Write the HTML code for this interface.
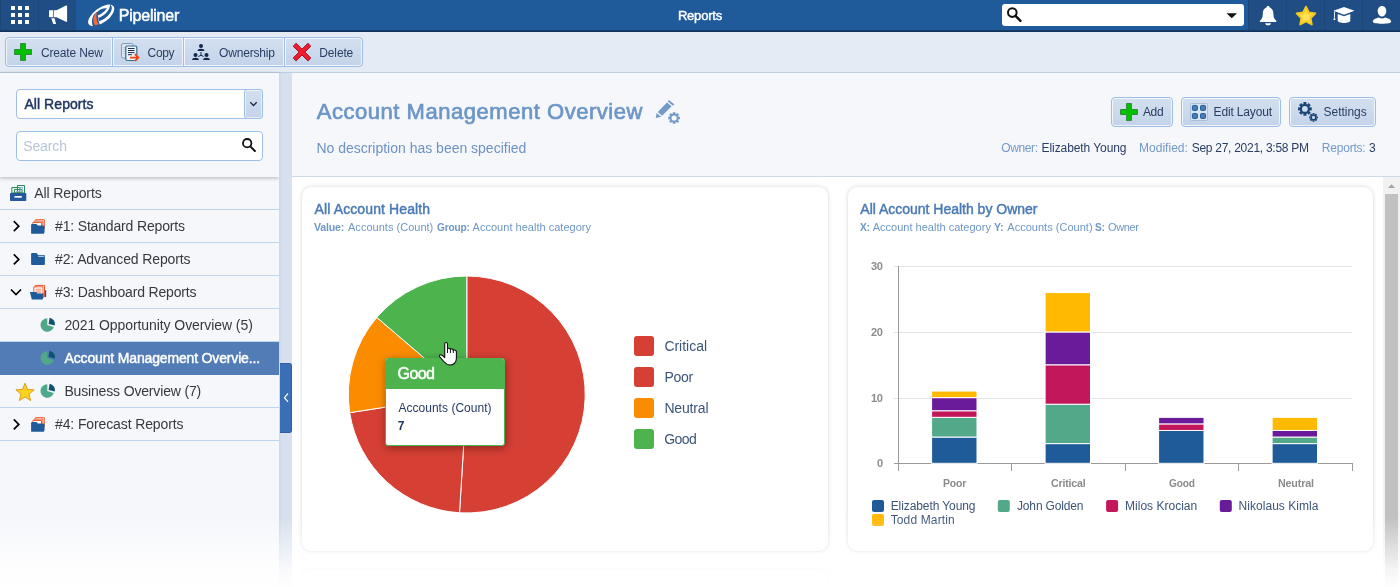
<!DOCTYPE html>
<html lang="en">
<head>
<meta charset="utf-8">
<title>Reports</title>
<style>
*{box-sizing:border-box;margin:0;padding:0}
html,body{width:1400px;height:587px;overflow:hidden;background:#fff}
body{font-family:"Liberation Sans",sans-serif;color:#2a3d62;position:relative;font-size:14px}
.a{position:absolute}
.t{position:absolute;white-space:nowrap;line-height:1}
svg{position:absolute;overflow:visible}
#top{position:absolute;left:0;top:0;width:1400px;height:30px;background:#1f5a9b}
#topsh{position:absolute;left:0;top:30px;width:1400px;height:2px;background:linear-gradient(#17406f,#0f2d52)}
.cell{position:absolute;top:0;height:30px;background:#204d84}
#tb{position:absolute;left:0;top:32px;width:1400px;height:41px;background:#e4ebf5;border-bottom:1px solid #c0cddf}
.btn{position:absolute;height:30px;background:linear-gradient(#d4e0f0,#c3d3e9);border:1px solid #9dbde2;box-shadow:inset 0 0 0 1px rgba(255,255,255,.75)}
#side{position:absolute;left:0;top:73px;width:279px;height:514px;background:#f6f7fb}
#filt{position:absolute;left:0;top:73px;width:279px;height:104px;background:#f6f7fb;box-shadow:0 1px 4px rgba(0,0,0,.28)}
.inp{position:absolute;left:16px;width:247px;height:30px;background:#fff;border:1px solid #9fc0e6;border-radius:4px}
.rb{position:absolute;left:0;width:279px;height:1px;background:#bcd4ec}
#split{position:absolute;left:279px;top:73px;width:13px;height:514px;background:linear-gradient(to right,#cdd7e6,#d7e0ee 25%)}
#hdr{position:absolute;left:292px;top:73px;width:1108px;height:104px;background:#f6f7fb;border-bottom:1px solid #ccdaea}
.card{position:absolute;top:187px;height:364px;background:#fff;border-radius:9px;box-shadow:0 0 4px rgba(0,0,0,.16),0 1px 2px rgba(0,0,0,.06)}
#fade{position:absolute;left:0;top:517px;width:1400px;height:70px;background:linear-gradient(rgba(255,255,255,0),rgba(255,255,255,.84) 75%,rgba(255,255,255,.98))}
</style>
</head>
<body>
<div id="top"></div><div id="topsh"></div>
<div class="cell" style="left:0;width:76px"></div><div class="cell" style="left:38px;width:1px;background:#1c4678"></div><div class="cell" style="left:0;width:1px;background:#1c4678"></div>
<div class="cell" style="left:1248px;width:152px"></div><div class="cell" style="left:1248px;width:1px;background:#1c4678"></div><div class="cell" style="left:1286px;width:1px;background:#1c4678"></div><div class="cell" style="left:1324px;width:1px;background:#1c4678"></div><div class="cell" style="left:1362px;width:1px;background:#1c4678"></div>
<svg style="left:0;top:0" width="40" height="30" fill="#fff"><rect x="11" y="6" width="4" height="4"/><rect x="11" y="13" width="4" height="4"/><rect x="11" y="20" width="4" height="4"/><rect x="18" y="6" width="4" height="4"/><rect x="18" y="13" width="4" height="4"/><rect x="18" y="20" width="4" height="4"/><rect x="25" y="6" width="4" height="4"/><rect x="25" y="13" width="4" height="4"/><rect x="25" y="20" width="4" height="4"/></svg>
<svg style="left:0;top:0" width="80" height="30"><path d="M49 11.2c0-.6.4-1 1-1h3.3v7H50c-.6 0-1-.4-1-1z M54 10.2h2.5L66 5.6c.6-.3 1.1 0 1.1.6v15c0 .6-.5.9-1.1.6l-9.500-4.600H54z M51.300 18.300h3.200l1.600 5.700h-2.900z" fill="#fff"/></svg>
<svg style="left:0;top:0" width="120" height="30">
<g transform="translate(101.200 15.400) rotate(-36.500)"><ellipse cx="0" cy="0" rx="15.300" ry="7.400" fill="#fff"/></g>
<path d="M110.200 4.600C115 9 108.300 18.200 99.300 21.300L98.500 18C104.200 15.700 109.400 10.600 109.700 6.800z" fill="#1f5a9b"/>
<path d="M96.500 12.700C99 9.200 103 8 106.900 8.200 105.500 10.900 101.500 13.900 97.300 15.700z" fill="#1f5a9b"/>
<path d="M93.600 15C91.400 19 91.600 23 93 27L100.300 25.500C99 23 98.300 20.300 98.400 17.500L96.800 12z" fill="#1f5a9b"/>
<path d="M96.500 12.300c-3.400 3.800-4.300 8.300-1.700 13l3.900-.8c-2-3.500-2.800-7.400-2-12.100z" fill="#f26a3d"/>
</svg>
<span class="t" style="left:118.76px;top:7.56px;font-size:16px;color:#fff;letter-spacing:-0.220px;-webkit-text-stroke:0.51px #fff;">Pipeliner</span>
<span class="t" style="left:677.91px;top:8.90px;font-size:13px;color:#fff;letter-spacing:-0.203px;-webkit-text-stroke:0.42px #fff;">Reports</span>
<div class="a" style="left:1002px;top:4px;width:242px;height:21.500px;background:#fff;border-radius:3px"></div>
<svg style="left:1000px;top:0" width="250" height="30"><circle cx="12.300" cy="12.600" r="4.300" fill="none" stroke="#111" stroke-width="2"/><path d="M15.500 15.800l5 5" stroke="#111" stroke-width="2.400" stroke-linecap="round"/><path d="M226.500 13.300h10.500l-5.250 5z" fill="#111"/></svg>
<svg style="left:0;top:0" width="1400" height="32"><path d="M1268.100 6c1 0 1.600.7 1.600 1.600 2.600.8 3.700 3.200 3.700 6.200 0 3.600 1 5.400 2.900 7v1.200h-16.400v-1.200c1.900-1.600 2.900-3.400 2.900-7 0-3 1.100-5.400 3.700-6.200 0-.9.600-1.600 1.600-1.600z M1265.300 23.200h5.600c0 1.300-1.200 2.100-2.800 2.100s-2.800-.8-2.800-2.100z" fill="#fff"/><polygon points="1306.00,6.60 1308.91,12.50 1315.42,13.44 1310.71,18.03 1311.82,24.51 1306.00,21.45 1300.18,24.51 1301.29,18.03 1296.58,13.44 1303.09,12.50" fill="#fdd835" stroke="#f5c91f" stroke-width="1.8" stroke-linejoin="round"/><circle cx="1306" cy="17" r="3.500" fill="#fde25a"/><path d="M1344 7l10.500 3.800-10.500 4-10.500-4z M1337.700 13.900l6.300 2.400 6.300-2.400v6.600c0 1.400-2.800 2.500-6.300 2.500s-6.300-1.100-6.300-2.500z M1334 11.500h.9v6.200h-.9z M1333.600 18.200h1.700v1.700h-1.700z" fill="#fff"/><path d="M1382 6c2.500 0 4.300 2.200 4.300 5s-1.800 5.600-4.300 5.600-4.300-2.800-4.300-5.600 1.800-5 4.300-5z M1372.800 21.800c0-2.600 3.200-3.600 6.200-4.400 1.800 1.300 4.200 1.300 6 0 3 .8 6.200 1.800 6.200 4.400 0 1.200-4 2-9.200 2s-9.200-.8-9.200-2z" fill="#fff"/></svg>
<div id="tb"></div>
<div class="btn" style="left:5px;top:37px;width:108px;border-radius:4px 0 0 4px"></div>
<div class="btn" style="left:112px;top:37px;width:72px"></div>
<div class="btn" style="left:183px;top:37px;width:102px"></div>
<div class="btn" style="left:284px;top:37px;width:79px;border-radius:0 4px 4px 0"></div>
<svg style="left:14px;top:43px" width="18" height="18" viewBox="0 0 18 18"><path d="M6.5 .5h5v6h6v5h-6v6h-5v-6h-6v-5h6z" fill="#00c000" stroke="#2f8f3f" stroke-width="1"/></svg>
<span class="t" style="left:40.90px;top:46.84px;font-size:12px;color:#2a3d62;letter-spacing:-0.138px;">Create New</span>
<span class="t" style="left:147.60px;top:46.84px;font-size:12px;color:#2a3d62;letter-spacing:-0.333px;">Copy</span>
<span class="t" style="left:219.00px;top:46.84px;font-size:12px;color:#2a3d62;letter-spacing:-0.172px;">Ownership</span>
<span class="t" style="left:319.30px;top:46.84px;font-size:12px;color:#2a3d62;letter-spacing:-0.138px;">Delete</span>
<svg style="left:0;top:0" width="150" height="70">
<rect x="121.500" y="43.500" width="11.500" height="14.500" rx="1.500" fill="#dbe5f1" stroke="#7f9fbd"/><path d="M123.500 47.500h2M123.500 49.500h2M123.500 51.500h2M123.500 53.500h2" stroke="#a9bdd3" stroke-width=".8"/>
<rect x="125.800" y="46" width="11" height="14.500" rx="1.500" fill="#eef3f9" stroke="#356f8e" stroke-width="1.200"/>
<path d="M128 48.500h6.500M128 50.500h6.500M128 52.600h6.500M128 54.700h4" stroke="#1d2f55" stroke-width="1"/>
<path d="M130 57.600h7.400M134.800 54.200l3.600 3.400-3.600 3.400" fill="none" stroke="#f4400f" stroke-width="1.700"/>
</svg>
<svg style="left:0;top:0" width="220" height="70" fill="#12284c"><circle cx="201" cy="45.9" r="2"/><path d="M197.6 51.0c0-1.600 1.300-2.300 3.400-2.300s3.400.7 3.400 2.300z"/><circle cx="195.5" cy="54.9" r="2"/><path d="M192.1 60.0c0-1.600 1.300-2.300 3.400-2.300s3.400.7 3.400 2.300z"/><circle cx="206.5" cy="54.9" r="2"/><path d="M203.1 60.0c0-1.600 1.300-2.300 3.400-2.300s3.400.7 3.400 2.300z"/><path d="M201 52v3.200l-2.600 1.300M201 55.200l2.600 1.300" stroke="#12284c" stroke-width="1" fill="none"/></svg>
<svg style="left:0;top:0" width="320" height="70"><path d="M296.100 43.300l5.900 5.900 5.900-5.900 2.900 2.900-5.900 5.900 5.900 5.900-2.900 2.900-5.900-5.900-5.900 5.900-2.900-2.900 5.900-5.900-5.900-5.900z" fill="#ee1c2e" stroke="#a31221" stroke-width="1"/></svg>
<div id="side"></div>
<div class="rb" style="top:209px"></div>
<div class="rb" style="top:242px"></div>
<div class="rb" style="top:275px"></div>
<div class="rb" style="top:308px"></div>
<div class="rb" style="top:341px"></div>
<div class="rb" style="top:374px"></div>
<div class="rb" style="top:407px"></div>
<div class="rb" style="top:440px"></div>
<div class="a" style="left:0;top:342px;width:279px;height:32.500px;background:#527cb6"></div>
<span class="t" style="left:34.30px;top:186.25px;font-size:14px;color:#38393d;letter-spacing:-0.110px;">All Reports</span>
<span class="t" style="left:55.00px;top:219.25px;font-size:14px;color:#38393d;letter-spacing:-0.161px;">#1: Standard Reports</span>
<span class="t" style="left:55.00px;top:252.25px;font-size:14px;color:#38393d;letter-spacing:-0.113px;">#2: Advanced Reports</span>
<span class="t" style="left:55.00px;top:285.25px;font-size:14px;color:#38393d;letter-spacing:-0.158px;">#3: Dashboard Reports</span>
<span class="t" style="left:64.40px;top:318.25px;font-size:14px;color:#38393d;letter-spacing:-0.079px;">2021 Opportunity Overview (5)</span>
<span class="t" style="left:64.62px;top:351.25px;font-size:14px;color:#fff;letter-spacing:-0.162px;-webkit-text-stroke:0.45px #fff;">Account Management Overvie...</span>
<span class="t" style="left:64.40px;top:384.25px;font-size:14px;color:#38393d;letter-spacing:-0.158px;">Business Overview (7)</span>
<span class="t" style="left:55.00px;top:417.25px;font-size:14px;color:#38393d;letter-spacing:-0.118px;">#4: Forecast Reports</span>
<svg style="left:0;top:0" width="279" height="587"><path d="M17.500 185.500h7v7.500h-7z M11.800 187.500h8v5.500h-8z M14.500 189.500h7.500v3.500h-7.500z" fill="#e9f3ee" stroke="#2e8b57" stroke-width="1"/><path d="M19 187.500h4M19 189h4M16 191.500h4.500" stroke="#7fa6d6" stroke-width=".8"/><rect x="10" y="193" width="16.300" height="8" rx=".8" fill="#24589a"/><rect x="14.500" y="196" width="7.300" height="1.700" fill="#fff"/><path d="M13.800 221.2l5 5-5 5" fill="none" stroke="#000" stroke-width="1.700"/><path d="M35.700 219.7h8.600v9h-8.600z" fill="#fff" stroke="#ee5a30" stroke-width="1"/><path d="M34.300 221.1h8.600v9h-8.600z" fill="#fff" stroke="#ee5a30" stroke-width="1"/><path d="M32.900 222.5h8.600v9h-8.600z" fill="#fff" stroke="#ee5a30" stroke-width="1"/><path d="M31.100 224.89999999999998c0-.5.400-.900.900-.900h4.500l1.400 1.600h5.300c.5 0 .9.400.9.900v6.400c0 .5-.4.900-.9.900h-11.200c-.5 0-.9-.4-.9-.9z" fill="#1f5a9b"/><path d="M44.400 225.79999999999998h.5v6.800h-.5z" fill="#1f5a9b"/><path d="M13.800 254.39999999999998l5 5-5 5" fill="none" stroke="#000" stroke-width="1.700"/><path d="M31.100 254c0-.5.400-.900.900-.900h4.600l1.500 1.800h5.900c.5 0 .9.400.9.900v8.200c0 .5-.4.900-.9.900h-12c-.5 0-.9-.4-.9-.9z" fill="#1f5a9b"/><path d="M38.300 256.3h5.800" stroke="#fff" stroke-width=".8"/><path d="M11 289.5l5 5 5-5" fill="none" stroke="#000" stroke-width="1.700"/><path d="M35.300 285.4h9.200v11.500h-9.200z" fill="#fff" stroke="#ee5a30" stroke-width="1"/><path d="M33.800 286.79999999999995h9.200v11h-9.200z" fill="#fff" stroke="#ee5a30" stroke-width="1"/><path d="M35.600 289.2h5.600M35.600 291.0h5.600M35.600 292.79999999999995h5.600" stroke="#f0623a" stroke-width=".8"/><path d="M44.900 290.2h1.300v6.800h-1.300z" fill="#1f5a9b"/><path d="M29.900 292.09999999999997h6.300l1.200 1.500h6.400l-1.100 6h-10.900z" fill="#1f5a9b"/><path d="M47.3 325L47.3 318.2A6.800 6.800 0 1 0 53.8 326.9z" fill="#4fa88a"/><path d="M48.599999999999994 324L49.599999999999994 317.7A6.600 6.600 0 0 1 54.8 325.6z" fill="#0f5270"/><path d="M47.3 358L47.3 351.2A6.800 6.800 0 1 0 53.8 359.9z" fill="#4fa88a"/><path d="M48.599999999999994 357L49.599999999999994 350.7A6.600 6.600 0 0 1 54.8 358.6z" fill="#0f5270"/><path d="M47.3 391L47.3 384.2A6.800 6.800 0 1 0 53.8 392.9z" fill="#4fa88a"/><path d="M48.599999999999994 390L49.599999999999994 383.7A6.600 6.600 0 0 1 54.8 391.6z" fill="#0f5270"/><polygon points="25.00,383.20 27.48,389.38 34.13,389.83 29.02,394.11 30.64,400.57 25.00,397.02 19.36,400.57 20.98,394.11 15.87,389.83 22.52,389.38" fill="#fcd21c" stroke="#d9a01e" stroke-width="1" stroke-linejoin="round"/><path d="M13.800 419.4l5 5-5 5" fill="none" stroke="#000" stroke-width="1.700"/><path d="M35.700 417.7h8.600v9h-8.600z" fill="#fff" stroke="#ee5a30" stroke-width="1"/><path d="M34.300 419.09999999999997h8.600v9h-8.600z" fill="#fff" stroke="#ee5a30" stroke-width="1"/><path d="M32.900 420.5h8.600v9h-8.600z" fill="#fff" stroke="#ee5a30" stroke-width="1"/><path d="M31.100 422.9c0-.5.400-.900.900-.900h4.500l1.400 1.600h5.300c.5 0 .9.400.9.900v6.400c0 .5-.4.900-.9.900h-11.200c-.5 0-.9-.4-.9-.9z" fill="#1f5a9b"/><path d="M44.400 423.8h.5v6.800h-.5z" fill="#1f5a9b"/></svg>
<div id="filt"></div>
<div class="inp" style="top:89px"></div>
<div class="a" style="left:244px;top:89px;width:19px;height:30px;background:linear-gradient(#d4e0f0,#c3d3e9);border:1px solid #9fc0e6;border-radius:3px;box-shadow:inset 0 0 0 1px rgba(255,255,255,.6)"></div>
<svg style="left:0;top:0" width="279" height="180"><path d="M250.300 102.300l3.200 3.200 3.200-3.200" fill="none" stroke="#12284c" stroke-width="1.250"/></svg>
<span class="t" style="left:24.42px;top:97.05px;font-size:14px;color:#1f3660;letter-spacing:0.065px;-webkit-text-stroke:0.45px #1f3660;">All Reports</span>
<div class="inp" style="top:131px"></div>
<span class="t" style="left:23.20px;top:138.75px;font-size:14px;color:#b8c6d8;letter-spacing:-0.115px;">Search</span>
<svg style="left:0;top:0" width="279" height="180"><circle cx="247.200" cy="143.200" r="4.200" fill="none" stroke="#111" stroke-width="1.800"/><path d="M250.300 146.400l4.600 4.600" stroke="#111" stroke-width="2" stroke-linecap="round"/></svg>
<div id="split"></div>
<div class="a" style="left:280px;top:363px;width:12px;height:70px;background:#3a6fb5;border-radius:0 3px 3px 0;border:1px solid #2d5fa3;border-left:0"></div>
<svg style="left:0;top:0" width="300" height="587"><path d="M288 393.500l-3.500 4.200 3.500 4.200" fill="none" stroke="#fff" stroke-width="1.200"/></svg>
<div id="hdr"></div>
<span class="t" style="left:316.75px;top:100.88px;font-size:22px;color:#6c96c8;letter-spacing:0.533px;-webkit-text-stroke:0.70px #6c96c8;">Account Management Overview</span>
<span class="t" style="left:316.40px;top:140.75px;font-size:14px;color:#6c93c3;letter-spacing:-0.007px;">No description has been specified</span>
<svg style="left:0;top:0" width="700" height="140">
<path d="M657.800 112.100L667 102.600 671.600 106.300 662.100 115.800z" fill="#7399c6"/>
<path d="M668.300 100.700L673.600 105" stroke="#7399c6" stroke-width="1.800"/>
<path d="M656.600 113L661.200 116.700 655.700 118z" fill="#7399c6"/>
<path d="M678.11 116.77L679.95 116.67L679.95 119.33L678.11 119.23zM677.81 119.97L679.18 121.20L677.30 123.08L676.07 121.71zM675.33 122.01L675.43 123.85L672.77 123.85L672.87 122.01zM672.13 121.71L670.90 123.08L669.02 121.20L670.39 119.97zM670.09 119.23L668.25 119.33L668.25 116.67L670.09 116.77zM670.39 116.03L669.02 114.80L670.90 112.92L672.13 114.29zM672.87 113.99L672.77 112.15L675.43 112.15L675.33 113.99zM676.07 114.29L677.30 112.92L679.18 114.80L677.81 116.03z" fill="#7399c6"/><circle cx="674.1" cy="118" r="3.55" fill="none" stroke="#7399c6" stroke-width="1.90"/>
</svg>
<div class="btn" style="left:1111px;top:97px;width:62px;border-radius:4px"></div>
<div class="btn" style="left:1181px;top:97px;width:100px;border-radius:4px"></div>
<div class="btn" style="left:1289px;top:97px;width:87px;border-radius:4px"></div>
<svg style="left:1120px;top:103px" width="18" height="18" viewBox="0 0 18 18"><path d="M6.5 .5h5v6h6v5h-6v6h-5v-6h-6v-5h6z" fill="#00c000" stroke="#2f8f3f" stroke-width="1"/></svg>
<span class="t" style="left:1142.90px;top:105.94px;font-size:12px;color:#2a3d62;letter-spacing:-0.338px;">Add</span>
<span class="t" style="left:1213.60px;top:105.94px;font-size:12px;color:#2a3d62;letter-spacing:-0.166px;">Edit Layout</span>
<span class="t" style="left:1323.50px;top:105.94px;font-size:12px;color:#2a3d62;letter-spacing:-0.011px;">Settings</span>
<svg style="left:0;top:0" width="1400" height="140"><rect x="1190.500" y="103.500" width="17" height="17" rx="1" fill="#d9e4f2" stroke="#a9bfdc"/><rect x="1192.4" y="105.4" width="5" height="5" rx="1" fill="#4b7bb3" stroke="#1f5a9b" stroke-width="1"/><rect x="1192.4" y="113.5" width="5" height="5" rx="1" fill="#4b7bb3" stroke="#1f5a9b" stroke-width="1"/><rect x="1200.5" y="105.4" width="5" height="5" rx="1" fill="#4b7bb3" stroke="#1f5a9b" stroke-width="1"/><rect x="1200.5" y="113.5" width="5" height="5" rx="1" fill="#4b7bb3" stroke="#1f5a9b" stroke-width="1"/><path d="M1309.58 107.46L1311.73 107.35L1311.73 110.45L1309.58 110.34zM1309.23 111.19L1310.82 112.63L1308.63 114.82L1307.19 113.23zM1306.34 113.58L1306.45 115.73L1303.35 115.73L1303.46 113.58zM1302.61 113.23L1301.17 114.82L1298.98 112.63L1300.57 111.19zM1300.22 110.34L1298.07 110.45L1298.07 107.35L1300.22 107.46zM1300.57 106.61L1298.98 105.17L1301.17 102.98L1302.61 104.57zM1303.46 104.22L1303.35 102.07L1306.45 102.07L1306.34 104.22zM1307.19 104.57L1308.63 102.98L1310.82 105.17L1309.23 106.61z" fill="#1a4675"/><circle cx="1304.9" cy="108.9" r="4.05" fill="none" stroke="#1a4675" stroke-width="2.30"/><path d="M1316.27 116.55L1317.89 116.40L1317.89 118.40L1316.27 118.25zM1316.06 118.76L1317.31 119.80L1315.90 121.21L1314.86 119.96zM1314.35 120.17L1314.50 121.79L1312.50 121.79L1312.65 120.17zM1312.14 119.96L1311.10 121.21L1309.69 119.80L1310.94 118.76zM1310.73 118.25L1309.11 118.40L1309.11 116.40L1310.73 116.55zM1310.94 116.04L1309.69 115.00L1311.10 113.59L1312.14 114.84zM1312.65 114.63L1312.50 113.01L1314.50 113.01L1314.35 114.63zM1314.86 114.84L1315.90 113.59L1317.31 115.00L1316.06 116.04z" fill="#1a4675"/><circle cx="1313.5" cy="117.4" r="2.40" fill="none" stroke="#1a4675" stroke-width="1.60"/></svg>
<span class="t" style="left:1001.20px;top:141.94px;font-size:12px;color:#7299c8;letter-spacing:-0.358px;">Owner:</span>
<span class="t" style="left:1041.60px;top:141.94px;font-size:12px;color:#2a3d62;letter-spacing:-0.083px;">Elizabeth Young</span>
<span class="t" style="left:1139.00px;top:141.94px;font-size:12px;color:#7299c8;letter-spacing:0.027px;">Modified:</span>
<span class="t" style="left:1191.70px;top:141.94px;font-size:12px;color:#2a3d62;letter-spacing:-0.273px;">Sep 27, 2021, 3:58 PM</span>
<span class="t" style="left:1321.80px;top:141.94px;font-size:12px;color:#7299c8;letter-spacing:-0.211px;">Reports:</span>
<span class="t" style="left:1369.06px;top:141.94px;font-size:12px;color:#2a3d62;">3</span>
<div class="card" style="left:302px;width:526px"></div>
<div class="card" style="left:848px;width:525px"></div>
<div class="card" style="left:302px;top:570px;width:526px;height:60px"></div>
<span class="t" style="left:314.62px;top:201.95px;font-size:14px;color:#4a7ab5;letter-spacing:0.107px;-webkit-text-stroke:0.45px #4a7ab5;">All Account Health</span>
<span class="t" style="left:314.40px;top:222.09px;font-size:11px;font-weight:bold;color:#6f97c7;letter-spacing:-0.200px;transform:scaleX(0.9606);transform-origin:0 0;">Value:</span>
<span class="t" style="left:348.00px;top:222.09px;font-size:11px;color:#6f97c7;letter-spacing:0.020px;">Accounts (Count)</span>
<span class="t" style="left:436.53px;top:222.09px;font-size:11px;font-weight:bold;color:#6f97c7;letter-spacing:-0.200px;transform:scaleX(0.9200);transform-origin:0 0;">Group:</span>
<span class="t" style="left:472.60px;top:222.09px;font-size:11px;color:#6f97c7;letter-spacing:0.018px;">Account health category</span>
<svg style="left:0;top:0" width="840" height="587"><path d="M466.8 394.5L466.80 276.00A118.5 118.5 0 1 1 459.51 512.78z" fill="#d63f34" stroke="#fff" stroke-width="1" stroke-linejoin="round"/><path d="M466.8 394.5L459.51 512.78A118.5 118.5 0 0 1 349.70 412.68z" fill="#d63f34" stroke="#fff" stroke-width="1" stroke-linejoin="round"/><path d="M466.8 394.5L349.70 412.68A118.5 118.5 0 0 1 376.81 317.40z" fill="#fb8c00" stroke="#fff" stroke-width="1" stroke-linejoin="round"/><path d="M466.8 394.5L376.81 317.40A118.5 118.5 0 0 1 466.80 276.00z" fill="#4db34d" stroke="#fff" stroke-width="1" stroke-linejoin="round"/><rect x="634" y="336" width="20" height="20" rx="3" fill="#d63f34"/><rect x="634" y="367" width="20" height="20" rx="3" fill="#d63f34"/><rect x="634" y="398" width="20" height="20" rx="3" fill="#fb8c00"/><rect x="634" y="429" width="20" height="20" rx="3" fill="#4db34d"/></svg>
<span class="t" style="left:664.40px;top:338.95px;font-size:14px;color:#3c5478;letter-spacing:-0.021px;">Critical</span>
<span class="t" style="left:664.40px;top:369.95px;font-size:14px;color:#3c5478;letter-spacing:-0.254px;">Poor</span>
<span class="t" style="left:664.40px;top:400.95px;font-size:14px;color:#3c5478;letter-spacing:-0.154px;">Neutral</span>
<span class="t" style="left:664.27px;top:431.95px;font-size:14px;color:#3c5478;letter-spacing:-0.600px;">Good</span>
<div class="a" style="left:385px;top:358px;width:120px;height:88px;background:#fff;border:1px solid #4db34d;border-radius:3px;box-shadow:1px 2px 9px rgba(0,0,0,.38);overflow:hidden"><div style="height:30px;background:#4db34d"></div></div>
<span class="t" style="left:397.59px;top:365.66px;font-size:16px;color:#fff;letter-spacing:-0.600px;-webkit-text-stroke:0.51px #fff;">Good</span>
<span class="t" style="left:398.40px;top:401.84px;font-size:12px;color:#263a62;letter-spacing:0.034px;">Accounts (Count)</span>
<span class="t" style="left:397.76px;top:419.84px;font-size:12px;font-weight:bold;color:#1f3660;">7</span>
<svg style="left:0;top:0" width="600" height="400"><path d="M444.700 343.800C444.700 342 447.500 342 447.500 343.800L447.500 349.300C447.500 347.800 450.400 347.800 450.400 349.600C450.400 348.500 453.300 348.600 453.300 350.400C453.300 349.600 456.300 349.600 456.400 351.600L456.400 358.500C456.400 362.500 453.500 365 450 365C447 365 445.500 363.500 443.800 361.500L439.800 356.800C438.800 355.300 440.500 354 442 355.200L444.700 357.500z" fill="#fff" stroke="#111" stroke-width="1.100" stroke-linejoin="round"/><path d="M447.500 349.300v3.700M450.400 349.600v3.400M453.300 350.400v2.600" stroke="#111" stroke-width="1"/></svg>
<span class="t" style="left:860.32px;top:201.95px;font-size:14px;color:#4a7ab5;letter-spacing:-0.011px;-webkit-text-stroke:0.45px #4a7ab5;">All Account Health by Owner</span>
<span class="t" style="left:859.73px;top:222.09px;font-size:11px;font-weight:bold;color:#6f97c7;letter-spacing:-0.200px;transform:scaleX(0.9200);transform-origin:0 0;">X:</span>
<span class="t" style="left:872.70px;top:222.09px;font-size:11px;color:#6f97c7;letter-spacing:0.009px;">Account health category</span>
<span class="t" style="left:994.30px;top:222.09px;font-size:11px;font-weight:bold;color:#6f97c7;letter-spacing:-0.200px;transform:scaleX(0.9612);transform-origin:0 0;">Y:</span>
<span class="t" style="left:1007.30px;top:222.09px;font-size:11px;color:#6f97c7;letter-spacing:0.020px;">Accounts (Count)</span>
<span class="t" style="left:1095.33px;top:222.09px;font-size:11px;font-weight:bold;color:#6f97c7;letter-spacing:-0.200px;transform:scaleX(0.9200);transform-origin:0 0;">S:</span>
<span class="t" style="left:1107.90px;top:222.09px;font-size:11px;color:#6f97c7;letter-spacing:-0.319px;">Owner</span>
<svg style="left:0;top:0" width="1400" height="587" shape-rendering="crispEdges"><path d="M894 398.5H1352" stroke="#e3e3e3" stroke-width="1"/><path d="M894 332.5H1352" stroke="#e3e3e3" stroke-width="1"/><path d="M894 266.5H1352" stroke="#e3e3e3" stroke-width="1"/><path d="M894 463.5H1352" stroke="#9a9a9a" stroke-width="1"/><path d="M898.5 266V471" stroke="#9a9a9a" stroke-width="1"/><path d="M1011.5 463V471" stroke="#9a9a9a" stroke-width="1"/><path d="M1125.5 463V471" stroke="#9a9a9a" stroke-width="1"/><path d="M1238.5 463V471" stroke="#9a9a9a" stroke-width="1"/><path d="M1352.5 463V471" stroke="#9a9a9a" stroke-width="1"/><rect x="931.6" y="437.03" width="45.4" height="26.27" fill="#1f5a99" stroke="#fff" stroke-width="1" shape-rendering="auto"/><rect x="931.6" y="417.33" width="45.4" height="19.70" fill="#52a98a" stroke="#fff" stroke-width="1" shape-rendering="auto"/><rect x="931.6" y="410.76" width="45.4" height="6.57" fill="#c2185b" stroke="#fff" stroke-width="1" shape-rendering="auto"/><rect x="931.6" y="397.63" width="45.4" height="13.13" fill="#6a1b9a" stroke="#fff" stroke-width="1" shape-rendering="auto"/><rect x="931.6" y="391.06" width="45.4" height="6.57" fill="#ffb900" stroke="#fff" stroke-width="1" shape-rendering="auto"/><rect x="1045.1" y="443.60" width="45.4" height="19.70" fill="#1f5a99" stroke="#fff" stroke-width="1" shape-rendering="auto"/><rect x="1045.1" y="404.20" width="45.4" height="39.40" fill="#52a98a" stroke="#fff" stroke-width="1" shape-rendering="auto"/><rect x="1045.1" y="364.80" width="45.4" height="39.40" fill="#c2185b" stroke="#fff" stroke-width="1" shape-rendering="auto"/><rect x="1045.1" y="331.96" width="45.4" height="32.83" fill="#6a1b9a" stroke="#fff" stroke-width="1" shape-rendering="auto"/><rect x="1045.1" y="292.56" width="45.4" height="39.40" fill="#ffb900" stroke="#fff" stroke-width="1" shape-rendering="auto"/><rect x="1158.6" y="430.47" width="45.4" height="32.83" fill="#1f5a99" stroke="#fff" stroke-width="1" shape-rendering="auto"/><rect x="1158.6" y="423.90" width="45.4" height="6.57" fill="#c2185b" stroke="#fff" stroke-width="1" shape-rendering="auto"/><rect x="1158.6" y="417.33" width="45.4" height="6.57" fill="#6a1b9a" stroke="#fff" stroke-width="1" shape-rendering="auto"/><rect x="1272.1" y="443.60" width="45.4" height="19.70" fill="#1f5a99" stroke="#fff" stroke-width="1" shape-rendering="auto"/><rect x="1272.1" y="437.03" width="45.4" height="6.57" fill="#52a98a" stroke="#fff" stroke-width="1" shape-rendering="auto"/><rect x="1272.1" y="430.47" width="45.4" height="6.57" fill="#6a1b9a" stroke="#fff" stroke-width="1" shape-rendering="auto"/><rect x="1272.1" y="417.33" width="45.4" height="13.13" fill="#ffb900" stroke="#fff" stroke-width="1" shape-rendering="auto"/><rect x="872" y="500" width="12" height="12" rx="2" fill="#1f5a99" shape-rendering="auto"/><rect x="997.8" y="500" width="12" height="12" rx="2" fill="#52a98a" shape-rendering="auto"/><rect x="1106.1" y="500" width="12" height="12" rx="2" fill="#c2185b" shape-rendering="auto"/><rect x="1219.8" y="500" width="12" height="12" rx="2" fill="#6a1b9a" shape-rendering="auto"/><rect x="872" y="514" width="12" height="12" rx="2" fill="#ffb900" shape-rendering="auto"/></svg>
<span class="t" style="left:876.94px;top:458.19px;font-size:11px;font-weight:bold;color:#8c8c8c;">0</span>
<span class="t" style="left:870.90px;top:392.52px;font-size:11px;font-weight:bold;color:#8c8c8c;letter-spacing:-0.150px;">10</span>
<span class="t" style="left:870.90px;top:326.85px;font-size:11px;font-weight:bold;color:#8c8c8c;letter-spacing:-0.150px;">20</span>
<span class="t" style="left:870.90px;top:261.18px;font-size:11px;font-weight:bold;color:#8c8c8c;letter-spacing:-0.150px;">30</span>
<span class="t" style="left:943.10px;top:478.09px;font-size:11px;font-weight:bold;color:#8c8c8c;letter-spacing:-0.200px;transform:scaleX(0.9484);transform-origin:0 0;">Poor</span>
<span class="t" style="left:1050.80px;top:478.09px;font-size:11px;font-weight:bold;color:#8c8c8c;letter-spacing:-0.200px;transform:scaleX(0.9662);transform-origin:0 0;">Critical</span>
<span class="t" style="left:1169.10px;top:478.09px;font-size:11px;font-weight:bold;color:#8c8c8c;letter-spacing:-0.200px;transform:scaleX(0.9221);transform-origin:0 0;">Good</span>
<span class="t" style="left:1277.60px;top:478.09px;font-size:11px;font-weight:bold;color:#8c8c8c;letter-spacing:-0.200px;transform:scaleX(0.9789);transform-origin:0 0;">Neutral</span>
<span class="t" style="left:890.70px;top:499.94px;font-size:12px;color:#3c5478;letter-spacing:-0.090px;">Elizabeth Young</span>
<span class="t" style="left:1017.00px;top:499.94px;font-size:12px;color:#3c5478;letter-spacing:-0.156px;">John Golden</span>
<span class="t" style="left:1125.00px;top:499.94px;font-size:12px;color:#3c5478;letter-spacing:0.017px;">Milos Krocian</span>
<span class="t" style="left:1238.60px;top:499.94px;font-size:12px;color:#3c5478;letter-spacing:0.033px;">Nikolaus Kimla</span>
<span class="t" style="left:890.70px;top:513.94px;font-size:12px;color:#3c5478;letter-spacing:0.131px;">Todd Martin</span>
<div class="a" style="left:1383px;top:177px;width:17px;height:410px;background:#f1f1f1"></div>
<div class="a" style="left:1385px;top:194px;width:13px;height:393px;background:#c1c1c1"></div>
<svg style="left:0;top:0" width="1400" height="200"><path d="M1388 188h7l-3.500-3.800z" fill="#a3a3a3"/></svg>
<div id="fade"></div>
</body>
</html>
